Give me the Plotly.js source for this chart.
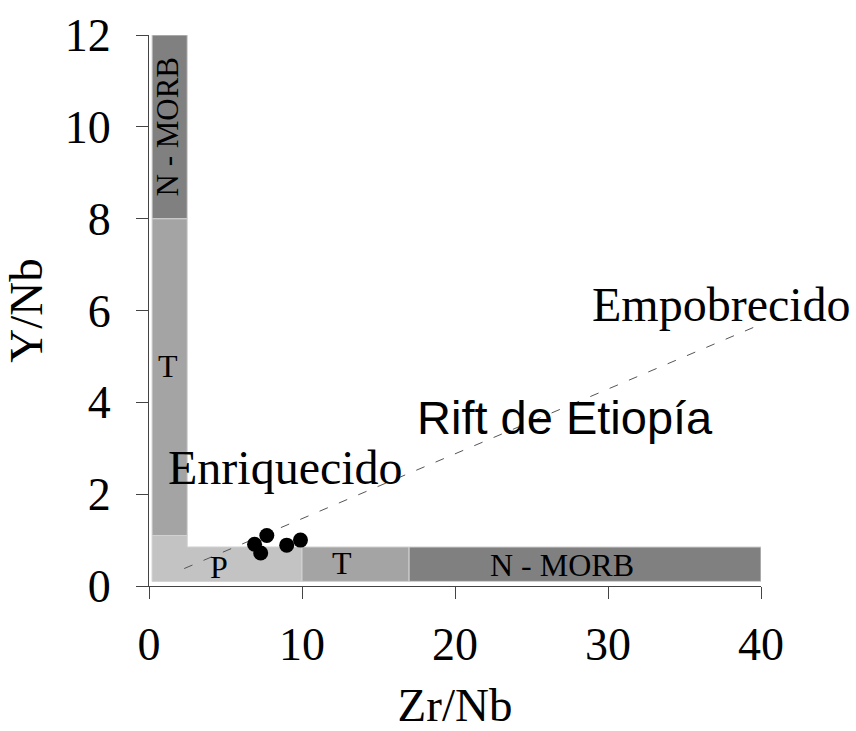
<!DOCTYPE html>
<html>
<head>
<meta charset="utf-8">
<script src="https://cdn.plot.ly/plotly-3.0.1.min.js"></script>
<style>
  html, body { margin: 0; padding: 0; background: #ffffff; }
  #chart { width: 856px; height: 731px; }
</style>
</head>
<body>
<div id="chart"></div>
<script>
// Zr/Nb vs Y/Nb discrimination fields (P, T, N-MORB) with samples from the Ethiopian Rift
const sampleZrNb = [6.9, 7.3, 7.7, 9.0, 9.9];
const sampleYNb  = [0.91, 0.72, 1.10, 0.89, 1.00];

// Field outlines (polygon vertices in Zr/Nb, Y/Nb)
const fieldP_x = [0.2, 10, 10, 2.5, 2.5, 0.2, 0.2];
const fieldP_y = [0.1, 0.1, 0.85, 0.85, 1.1, 1.1, 0.1];
const fieldT_vert_x = [0.2, 2.5, 2.5, 0.2, 0.2];
const fieldT_vert_y = [1.1, 1.1, 8, 8, 1.1];
const fieldT_horiz_x = [10, 17, 17, 10, 10];
const fieldT_horiz_y = [0.1, 0.1, 0.85, 0.85, 0.1];
const fieldN_vert_x = [0.2, 2.5, 2.5, 0.2, 0.2];
const fieldN_vert_y = [8, 8, 12, 12, 8];
const fieldN_horiz_x = [17, 40, 40, 17, 17];
const fieldN_horiz_y = [0.1, 0.1, 0.85, 0.85, 0.1];

// Enriched -> depleted trend
const trendX = [2.3, 39.5];
const trendY = [0.38, 5.63];

const xTicks = [0, 10, 20, 30, 40];
const yTicks = [0, 2, 4, 6, 8, 10, 12];

const serif = 'Liberation Serif, Times New Roman, serif';
const sans = 'Liberation Sans, Arial, sans-serif';

function field(xs, ys, color) {
  return {
    x: xs, y: ys, type: 'scatter', mode: 'lines', fill: 'toself',
    fillcolor: color, line: {color: '#d2d2d2', width: 1},
    hoverinfo: 'skip', showlegend: false
  };
}

const traces = [
  field(fieldP_x, fieldP_y, '#c3c3c3'),
  field(fieldT_vert_x, fieldT_vert_y, '#a4a4a4'),
  field(fieldT_horiz_x, fieldT_horiz_y, '#a4a4a4'),
  field(fieldN_vert_x, fieldN_vert_y, '#808080'),
  field(fieldN_horiz_x, fieldN_horiz_y, '#808080'),
  {
    x: trendX, y: trendY, type: 'scatter', mode: 'lines',
    line: {color: '#555555', width: 1, dash: '9px,12px'},
    hoverinfo: 'skip', showlegend: false
  },
  {
    x: sampleZrNb, y: sampleYNb, type: 'scatter', mode: 'markers',
    marker: {color: '#000000', size: 15}, showlegend: false
  }
];

function label(x, y, text, size, family, extra) {
  return Object.assign({
    x: x, y: y, xref: 'x', yref: 'y', text: text, showarrow: false,
    font: {family: family, size: size, color: '#000000'},
    xanchor: 'center', yanchor: 'middle'
  }, extra || {});
}

const layout = {
  width: 856, height: 731,
  margin: {l: 149, r: 95, t: 35, b: 145},
  paper_bgcolor: '#ffffff', plot_bgcolor: '#ffffff',
  showlegend: false,
  xaxis: {
    range: [0, 40], tickvals: xTicks, ticktext: xTicks.map(String),
    showgrid: false, zeroline: false, showline: true,
    linecolor: '#444444', linewidth: 1,
    ticks: 'outside', ticklen: 12, tickcolor: '#444444', tickwidth: 1,
    tickfont: {family: serif, size: 46, color: '#000000'},
    ticklabelstandoff: 6,
    title: {text: 'Zr/Nb', font: {family: serif, size: 47, color: '#000000'}, standoff: 34}
  },
  yaxis: {
    range: [0, 12], tickvals: yTicks, ticktext: yTicks.map(String),
    showgrid: false, zeroline: false, showline: true,
    linecolor: '#444444', linewidth: 1,
    ticks: 'outside', ticklen: 12, tickcolor: '#444444', tickwidth: 1,
    tickfont: {family: serif, size: 46, color: '#000000'},
    ticklabelstandoff: 16,
    title: {text: 'Y/Nb', font: {family: serif, size: 47, color: '#000000'}, standoff: 18}
  },
  annotations: [
    label(37.4, 6.12, 'Empobrecido', 48, serif),
    label(27.2, 3.66, 'Rift de Etiopía', 47, sans),
    label(8.95, 2.59, 'Enriquecido', 48, serif),
    label(4.6, 0.41, 'P', 32, serif),
    label(12.6, 0.5, 'T', 32, serif),
    label(27.0, 0.46, 'N - MORB', 32, serif),
    label(1.22, 4.8, 'T', 32, serif),
    label(1.22, 10.0, 'N - MORB', 31, serif, {textangle: -90})
  ]
};

Plotly.newPlot('chart', traces, layout, {displayModeBar: false, staticPlot: true});
</script>
</body>
</html>
